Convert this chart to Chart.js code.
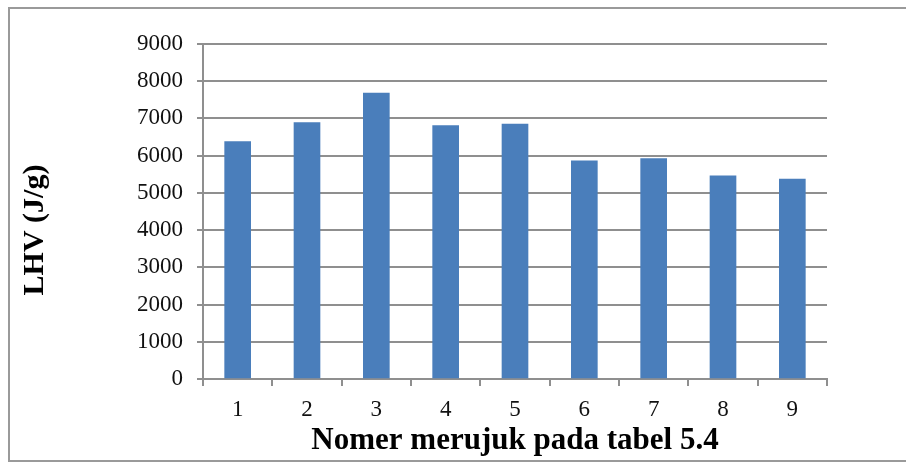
<!DOCTYPE html>
<html>
<head>
<meta charset="utf-8">
<script src="https://cdn.jsdelivr.net/npm/chart.js@4/dist/chart.umd.min.js"></script>
<style>
  html, body { margin: 0; padding: 0; background: #ffffff; }
  canvas { display: block; }
</style>
</head>
<body>
<canvas id="lhv" width="906" height="463"></canvas>
<script>
// LHV per sample, numbered as in table 5.4
const categories = ['1', '2', '3', '4', '5', '6', '7', '8', '9'];
const lhvValues = [6380, 6890, 7680, 6810, 6850, 5860, 5920, 5455, 5370];
const yTickValues = [0, 1000, 2000, 3000, 4000, 5000, 6000, 7000, 8000, 9000];

const yTitle = 'LHV (J/g)';
const xTitle = 'Nomer merujuk pada tabel 5.4';

const serif = "'Liberation Serif', 'Times New Roman', serif";
const lineGrey = '#8f8f8f';

// White page with a thin grey frame around the figure
const framePlugin = {
  id: 'frame',
  beforeDraw(chart) {
    const ctx = chart.ctx;
    ctx.save();
    ctx.fillStyle = '#ffffff';
    ctx.fillRect(0, 0, chart.width, chart.height);
    ctx.strokeStyle = '#9a9a9a';
    ctx.lineWidth = 2;
    ctx.strokeRect(9, 8, chart.width + 10, chart.height - 10);
    ctx.restore();
  }
};

// Rotated value-axis title placed beside the tick labels
const yTitlePlugin = {
  id: 'yTitle',
  afterDraw(chart) {
    const ctx = chart.ctx;
    ctx.save();
    ctx.translate(35, 230);
    ctx.rotate(-Math.PI / 2);
    ctx.font = 'bold 30px ' + serif;
    ctx.fillStyle = '#000000';
    ctx.textAlign = 'center';
    ctx.textBaseline = 'middle';
    ctx.fillText(yTitle, 0, 0);
    ctx.restore();
  }
};

new Chart(document.getElementById('lhv'), {
  type: 'bar',
  data: {
    labels: categories,
    datasets: [{
      data: lhvValues,
      backgroundColor: '#4a7ebb',
      borderWidth: 0,
      barThickness: 26
    }]
  },
  options: {
    responsive: false,
    animation: false,
    devicePixelRatio: 1,
    layout: { padding: { left: 0, right: 79, top: 44, bottom: 0 } },
    plugins: {
      legend: { display: false },
      tooltip: { enabled: false }
    },
    scales: {
      x: {
        offset: true,
        grid: {
          offset: true,
          drawOnChartArea: false,
          drawTicks: true,
          tickLength: 7,
          color: lineGrey,
          lineWidth: 2
        },
        border: { color: lineGrey, width: 2 },
        ticks: {
          font: { family: serif, size: 23 },
          color: '#111111',
          padding: 10
        },
        title: {
          display: true,
          text: xTitle,
          font: { family: serif, size: 31, weight: 'bold' },
          color: '#000000',
          padding: { top: 0, bottom: 3 }
        },
        afterFit(scale) { scale.height = 84; }
      },
      y: {
        min: 0,
        max: 9000,
        afterBuildTicks(scale) {
          scale.ticks = yTickValues.map(v => ({ value: v }));
        },
        grid: {
          color: lineGrey,
          lineWidth: 2,
          drawTicks: true,
          tickLength: 6
        },
        border: { color: lineGrey, width: 2 },
        ticks: {
          font: { family: serif, size: 23 },
          color: '#111111',
          padding: 14,
          callback: v => String(v)
        },
        afterFit(scale) { scale.width = 203; }
      }
    }
  },
  plugins: [framePlugin, yTitlePlugin]
});
</script>
</body>
</html>
